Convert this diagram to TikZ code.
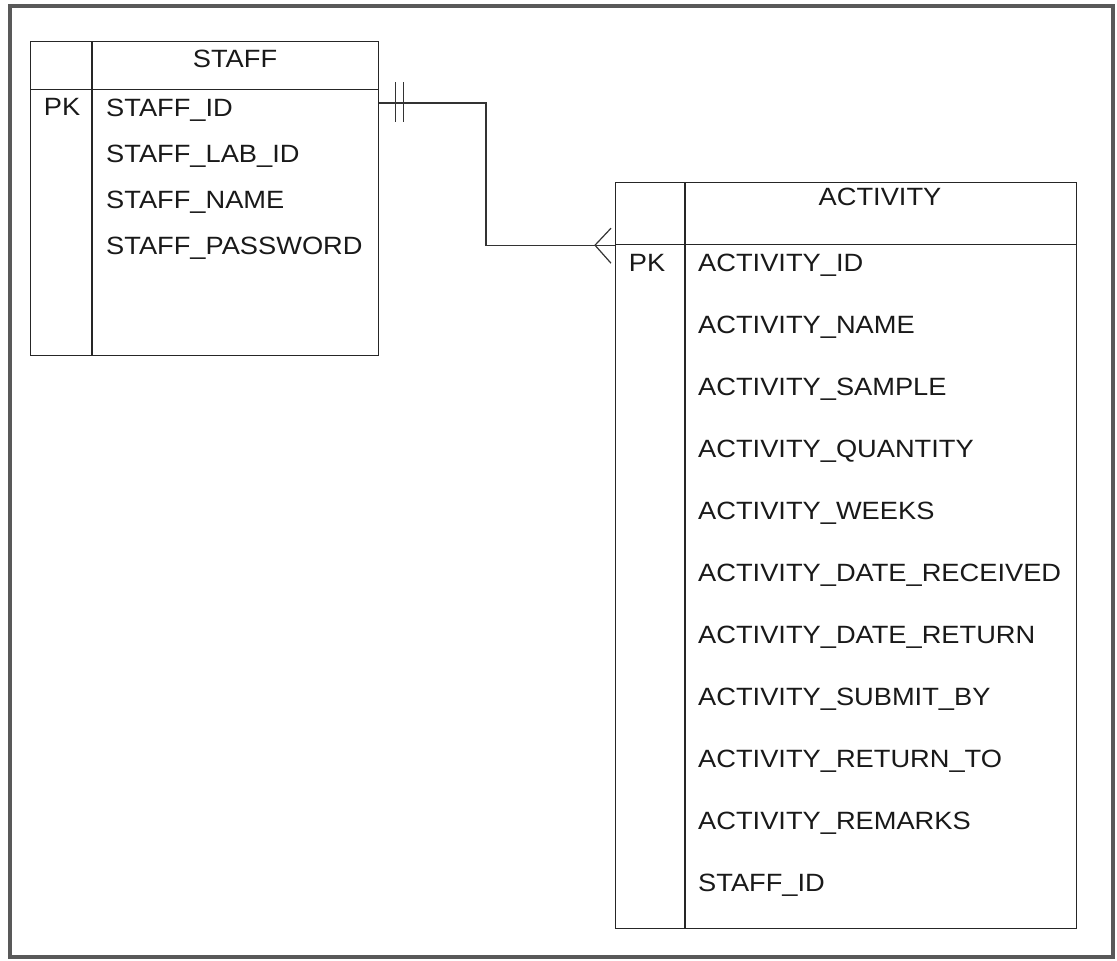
\documentclass[tikz,border=0pt]{standalone}
\usepackage{fontspec}
\setmainfont{Liberation Sans}[FakeStretch=1.09]
\usetikzlibrary{positioning,calc}

\begin{document}
\begin{tikzpicture}[x=1pt, y=-1pt,
    box/.style={draw=black!85, line width=1.2pt, inner sep=0pt, anchor=north west},
    field/.style={font=\fontsize{25}{30}\selectfont, text=black!90, inner sep=0pt, anchor=base west},
    title/.style={font=\fontsize{25}{30}\selectfont, text=black!90, inner sep=0pt}]

    \useasboundingbox (0,0) rectangle (1117,961);

    % Frame
    \draw[line width=3.5pt, black!65] (10,6) rectangle (1113,957);

    % Tables
    \node (staff) [box, minimum width=348pt, minimum height=314pt] at (30,41) {};
    \node (stafftop) [box, minimum width=348pt, minimum height=48pt] at (30,41) {};
    \draw[line width=1.2pt, black!85] (92,41) -- (92,355);

    \node (activity) [box, minimum width=461pt, minimum height=746pt] at (615,182) {};
    \node (acttop) [box, minimum width=461pt, minimum height=62pt] at (615,182) {};
    \draw[line width=1.2pt, black!85] (685,182) -- (685,928);

    % Titles
    \node (stafftitle) [title] at (235,59) {STAFF};
    \node (acttitle) [title] at (880,197) {ACTIVITY};
    \node (staffpk) [title] at (62,107) {PK};
    \node (actpk) [title] at (647,263) {PK};

    % Fields
    \foreach \fname [count=\i] in {STAFF\_ID, STAFF\_LAB\_ID, STAFF\_NAME, STAFF\_PASSWORD}
        \node (staff\i) [field] at (106, 116 + 46.3*\i - 46.3) {\fname};
    \foreach \fname [count=\i] in {ACTIVITY\_ID, ACTIVITY\_NAME, ACTIVITY\_SAMPLE,
        ACTIVITY\_QUANTITY, ACTIVITY\_WEEKS, ACTIVITY\_DATE\_RECEIVED,
        ACTIVITY\_DATE\_RETURN, ACTIVITY\_SUBMIT\_BY, ACTIVITY\_RETURN\_TO,
        ACTIVITY\_REMARKS, STAFF\_ID}
        \node (act\i) [field] at (698, 271 + 62*\i - 62) {\fname};

    % Relationship
    \coordinate (one) at (staff.east |- 0,103);
    \coordinate (many) at (acttop.south west);
    \draw[line width=1.2pt, black!80] (one) -- (486,103) |- (many);
    \draw[line width=1.2pt, black!80] ($(one)+(16,-21)$) -- ($(one)+(16,19)$);
    \draw[line width=1.2pt, black!80] ($(one)+(24,-21)$) -- ($(one)+(24,19)$);
    \draw[line width=1.2pt, black!80] ($(many)+(-4,-17)$) -- ($(many)+(-20,0)$) -- ($(many)+(-4,18)$);

\end{tikzpicture}
\end{document}
